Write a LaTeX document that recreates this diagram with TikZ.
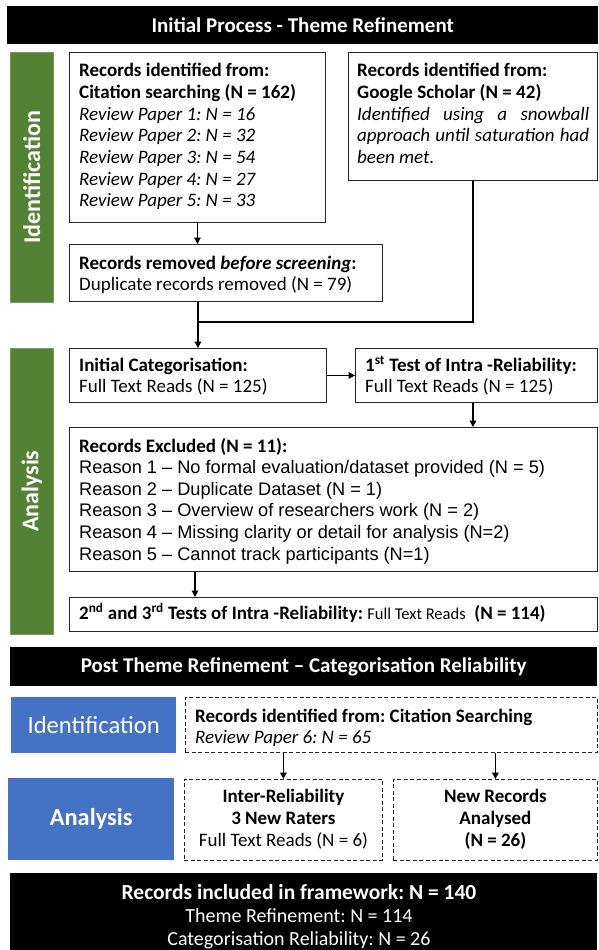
\documentclass[tikz,border=0pt]{standalone}
\usepackage{fontspec}
\setmainfont{Carlito}
\newfontfamily\arialf{Liberation Sans}
\usetikzlibrary{arrows.meta}
\definecolor{ggreen}{HTML}{548235}
\definecolor{bblue}{HTML}{4472C4}
\frenchspacing
\newcommand\fsz[2]{\fontsize{#1}{#2}\selectfont}
\newcommand\rsn[1]{{\arialf\fsz{18.2}{21.6}#1}}
\tikzset{
  box/.style={draw=black!85, line width=0.9pt, fill=white, inner sep=0pt, anchor=north west},
  dbox/.style={draw=black!85, line width=0.8pt, dash pattern=on 4pt off 2.5pt, fill=white, inner sep=0pt, anchor=north west},
  blackbar/.style={fill=black, inner sep=0pt, anchor=north west, text=white},
  greenbar/.style={fill=ggreen, draw=ggreen!80!white, line width=0.5pt, inner sep=0pt, anchor=north west},
  bluebar/.style={fill=bblue, inner sep=0pt, anchor=north west, text=white},
  txt/.style={inner sep=0pt, text=black, anchor=base west},
  ctxt/.style={inner sep=0pt, anchor=base},
  arr/.style={line width=1.7pt, -{Triangle[length=6.5pt,width=6.5pt]}},
  thickline/.style={line width=2.8pt},
}
\begin{document}
\begin{tikzpicture}[x=1pt,y=-1pt]
\useasboundingbox[fill=white] (0,0) rectangle (598,950);

% ===== Header 1 =====
\node[blackbar, minimum width=591, minimum height=38] (H1) at (7,6)
  {\fsz{21}{24}\bfseries Initial Process - Theme Refinement};

% ===== Green side bars =====
\node[greenbar, minimum width=43, minimum height=250] (GI) at (10,52) {};
\node[rotate=90, text=white, inner sep=0pt] (GIt) at (GI.center) {\fsz{24}{28}\bfseries Identification};
\node[greenbar, minimum width=43, minimum height=286] (GA) at (10,348) {};
\node[rotate=90, text=white, inner sep=0pt] (GAt) at (GA.center) {\fsz{24}{28}\bfseries Analysis};

% ===== Boxes (Identification) =====
\node[box, minimum width=256, minimum height=170] (A) at (69,52) {};
\node[txt] (At) at (79,77) {\begin{minipage}[t]{240pt}\fsz{19}{21.6}%
\textbf{Records identified from:}\\
\textbf{Citation searching (N = 162)}\\
\textit{Review Paper 1: N = 16}\\
\textit{Review Paper 2: N = 32}\\
\textit{Review Paper 3: N = 54}\\
\textit{Review Paper 4: N = 27}\\
\textit{Review Paper 5: N = 33}\end{minipage}};

\node[box, minimum width=249, minimum height=128] (B) at (348,52) {};
\node[txt] (Bt) at (357,77) {\begin{minipage}[t]{232pt}\fsz{19}{21.6}%
\textbf{Records identified from:}\\
\textbf{Google Scholar (N = 42)}\\
\makebox[232pt][s]{\itshape Identified using a snowball}\\
\makebox[232pt][s]{\itshape approach until saturation had}\\
\textit{been met.}\end{minipage}};

\node[box, minimum width=313, minimum height=57] (C) at (69,244) {};
\node[txt] (Ct) at (79,269) {\begin{minipage}[t]{300pt}\fsz{19}{21.6}%
\textbf{Records removed \textit{before screening}:}\\
Duplicate records removed (N = 79)\end{minipage}};

% ===== Boxes (Analysis) =====
\node[box, minimum width=257, minimum height=54] (D) at (69,348) {};
\node[txt] (Dt) at (79,371) {\begin{minipage}[t]{240pt}\fsz{19}{21.6}%
\textbf{Initial Categorisation:}\\
Full Text Reads (N = 125)\end{minipage}};

\node[box, minimum width=242, minimum height=54] (D2) at (355,348) {};
\node[txt] (D2t) at (365,371) {\begin{minipage}[t]{230pt}\fsz{19}{21.6}%
\textbf{1\textsuperscript{st} Test of Intra -Reliability:}\\
Full Text Reads (N = 125)\end{minipage}};

\node[box, minimum width=528, minimum height=144] (E) at (69,427) {};
\node[txt] (Et) at (79,452) {\begin{minipage}[t]{515pt}\fsz{19}{21.6}%
\textbf{Records Excluded (N = 11):}\\
\rsn{Reason 1 – No formal evaluation/dataset provided (N = 5)}\\
\rsn{Reason 2 – Duplicate Dataset (N = 1)}\\
\rsn{Reason 3 – Overview of researchers work (N = 2)}\\
\rsn{Reason 4 – Missing clarity or detail for analysis (N=2)}\\
\rsn{Reason 5 – Cannot track participants (N=1)}\end{minipage}};

\node[box, minimum width=528, minimum height=34] (F) at (69,597) {};
\node[txt] (Ft) at (79,619) {\fsz{19}{21.6}\textbf{2\textsuperscript{nd} and 3\textsuperscript{rd} Tests of Intra -Reliability:} {\fsz{16.5}{20}Full Text Reads} \ \textbf{(N = 114)}};

% ===== Header 2 =====
\node[blackbar, minimum width=587, minimum height=39] (H2) at (10,647)
  {\fsz{21}{24}\bfseries Post Theme Refinement – Categorisation Reliability};

% ===== Blue side labels =====
\node[bluebar, minimum width=165, minimum height=56] (BI) at (11,697) {\fsz{24.6}{28}Identification};
\node[bluebar, minimum width=166, minimum height=82] (BA) at (8,778) {\fsz{24.4}{28}\bfseries Analysis};

% ===== Dashed boxes =====
\node[dbox, minimum width=412, minimum height=55] (G) at (185,697) {};
\node[txt] (Gt) at (195,722) {\begin{minipage}[t]{395pt}\fsz{19}{21.6}%
\textbf{Records identified from: Citation Searching}\\
\textit{Review Paper 6: N = 65}\end{minipage}};

\node[dbox, minimum width=198, minimum height=81] (Hb) at (184,779) {};
\node[ctxt] (Hbt) at (Hb.north |- 0,802) {\begin{minipage}[t]{196pt}\centering\fsz{19}{22}%
\textbf{Inter-Reliability}\\ \textbf{3 New Raters}\\ Full Text Reads (N = 6)\end{minipage}};

\node[dbox, minimum width=204, minimum height=81] (Ib) at (393,779) {};
\node[ctxt] (Ibt) at (Ib.north |- 0,802) {\begin{minipage}[t]{200pt}\centering\fsz{19}{22}\bfseries
New Records\\ Analysed\\ (N = 26)\end{minipage}};

% ===== Final bar =====
\node[blackbar, minimum width=587, minimum height=77] (R) at (10,873) {};
\node[ctxt, text=white] (Rt) at (299,899) {\begin{minipage}[t]{580pt}\centering\fsz{20}{23}%
{\fsz{21.5}{23}\bfseries Records included in framework: N = 140}\\ Theme Refinement: N = 114\\ Categorisation Reliability: N = 26\end{minipage}};

% ===== Connectors =====
\coordinate (merge) at (D.north |- 0,322);
\draw[arr] (A.south) -- (A.south |- C.north);
\draw[thickline] (B.south) |- (merge);
\draw[arr] (C.south -| D.north) -- (D.north);
\draw[arr] (D.east) -- (D2.west);
\draw[arr] (D2.south -| B.south) -- (E.north -| B.south);
\draw[arr] (E.south -| 195,0) -- (F.north -| 195,0);
\draw[arr] (G.south -| Hb.north) -- (Hb.north);
\draw[arr] (G.south -| Ib.north) -- (Ib.north);
\end{tikzpicture}
\end{document}
